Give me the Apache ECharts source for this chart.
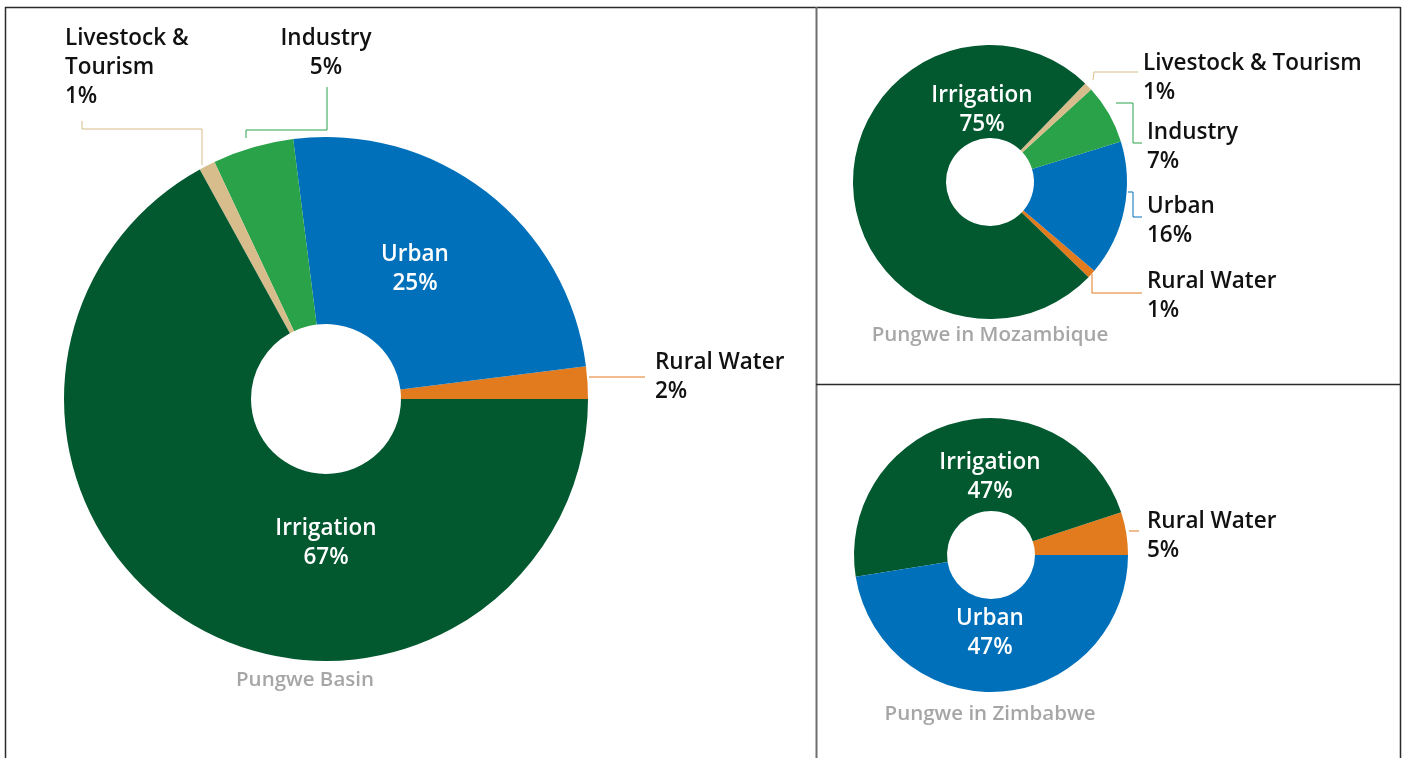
<!DOCTYPE html>
<html>
<head>
<meta charset="utf-8">
<script src="https://cdn.jsdelivr.net/npm/echarts@6/dist/echarts.min.js"></script>
<style>
  html, body { margin: 0; padding: 0; background: #fff; }
  #chart { width: 1405px; height: 758px; }
</style>
</head>
<body>
<div id="chart"></div>
<script>
// slices go counter-clockwise from 3 o'clock
const basinNames = ['Rural Water', 'Urban', 'Industry', 'Livestock & Tourism', 'Irrigation']
const basinValues = [2, 25, 5, 1, 67]

const mozNames = ['Rural Water', 'Urban', 'Industry', 'Livestock & Tourism', 'Irrigation']
const mozValues = [1, 16, 7, 1, 75]

const zimNames = ['Rural Water', 'Irrigation', 'Urban']
const zimValues = [5, 47, 47]

const panelTitles = ['Pungwe Basin', 'Pungwe in Mozambique', 'Pungwe in Zimbabwe']

const colors = {
  'Irrigation': '#02582f',
  'Urban': '#0070ba',
  'Rural Water': '#e27b1e',
  'Industry': '#29a249',
  'Livestock & Tourism': '#d8bd8c'
}

const FONT = '"Open Sans", "Noto Sans", sans-serif'
const LINE_H = 29
const Y_SHIFT = 2

// label placement per panel: inside labels are centred on (x, y),
// outside ones have y = centre of first line and get a leader line
const basinLayout = {
  'Urban': {x: 415, y: 267, inside: true},
  'Irrigation': {x: 326, y: 541, inside: true},
  'Rural Water': {x: 655, y: 361, line: [[589, 377], [645, 377]]},
  'Industry': {x: 326, y: 37, align: 'center', line: [[246, 138], [246, 130], [327, 130], [327, 87]]},
  'Livestock & Tourism': {x: 65, y: 37, text: 'Livestock &\nTourism', line: [[202, 165], [202, 129], [82, 129], [82, 121]]}
}
const mozLayout = {
  'Irrigation': {x: 982, y: 108, inside: true},
  'Livestock & Tourism': {x: 1143, y: 62, line: [[1093, 80], [1094, 72], [1138, 72]]},
  'Industry': {x: 1147, y: 131, line: [[1116, 103], [1133, 103], [1133, 143], [1142, 143]]},
  'Urban': {x: 1147, y: 205, line: [[1128, 192], [1133, 192], [1133, 217], [1142, 217]]},
  'Rural Water': {x: 1147, y: 280, line: [[1092, 274], [1092, 293], [1142, 293]]}
}
const zimLayout = {
  'Irrigation': {x: 990, y: 475, inside: true},
  'Urban': {x: 990, y: 631, inside: true},
  'Rural Water': {x: 1147, y: 520, line: [[1129, 531], [1139, 531]]}
}

function buildData(names, values, layout) {
  return names.map((n, i) => {
    const l = layout[n]
    const text = (l.text || n) + '\n' + values[i] + '%'
    return {
      name: n,
      value: values[i],
      itemStyle: {color: colors[n]},
      label: {
        position: l.inside ? 'inside' : 'outside',
        formatter: text,
        color: l.inside ? '#ffffff' : '#111111',
        align: l.inside ? 'center' : (l.align || 'left')
      },
      labelLine: {
        show: !l.inside,
        lineStyle: {color: colors[n], width: 1}
      }
    }
  })
}

function makeLayout(names, layout) {
  return params => {
    const l = layout[names[params.dataIndex]]
    let y = l.y
    if (!l.inside) {
      const lines = (l.text || 'x').split('\n').length + 1
      y = l.y - LINE_H / 2 + lines * LINE_H / 2
    }
    const opt = {
      x: l.x,
      y: y + Y_SHIFT,
      align: l.inside ? 'center' : (l.align || 'left'),
      verticalAlign: 'middle'
    }
    if (l.line) opt.labelLinePoints = l.line
    return opt
  }
}

function pieSeries(names, values, layout, center, radius, startAngle) {
  return {
    type: 'pie',
    center: center,
    radius: radius,
    startAngle: startAngle,
    clockwise: false,
    avoidLabelOverlap: false,
    silent: true,
    animation: false,
    label: {
      show: true,
      fontFamily: FONT,
      fontSize: 22.5,
      fontWeight: 600,
      lineHeight: LINE_H
    },
    labelLine: {show: true, length: 10, length2: 10},
    labelLayout: makeLayout(names, layout),
    data: buildData(names, values, layout)
  }
}

const myChart = echarts.init(document.getElementById('chart'))

const borderColor = '#2a2a2a'
const titleStyle = {textAlign: 'center', textVerticalAlign: 'middle', fill: '#a6a6a6', font: '600 20.5px ' + FONT}
const option = {
  backgroundColor: '#ffffff',
  graphic: [
    {type: 'line', shape: {x1: 5, y1: 7.5, x2: 1400.5, y2: 7.5}, style: {stroke: borderColor, lineWidth: 1.5}},
    {type: 'line', shape: {x1: 5.5, y1: 7, x2: 5.5, y2: 758}, style: {stroke: borderColor, lineWidth: 1.5}},
    {type: 'line', shape: {x1: 1400.5, y1: 7, x2: 1400.5, y2: 758}, style: {stroke: borderColor, lineWidth: 1.5}},
    {type: 'line', shape: {x1: 816.5, y1: 7, x2: 816.5, y2: 758}, style: {stroke: '#6e6e6e', lineWidth: 2}},
    {type: 'line', shape: {x1: 816, y1: 384.5, x2: 1400, y2: 384.5}, style: {stroke: borderColor, lineWidth: 1.5}},
    {type: 'text', x: 305, y: 680, style: Object.assign({text: panelTitles[0]}, titleStyle)},
    {type: 'text', x: 990, y: 335, style: Object.assign({text: panelTitles[1]}, titleStyle)},
    {type: 'text', x: 990, y: 714, style: Object.assign({text: panelTitles[2]}, titleStyle)}
  ],
  series: [
    pieSeries(basinNames, basinValues, basinLayout, [326, 399], [75, 262], 0),
    pieSeries(mozNames, mozValues, mozLayout, [990, 182], [44, 137], -44),
    pieSeries(zimNames, zimValues, zimLayout, [991, 555], [44, 137], 0)
  ]
}

myChart.setOption(option)
window.addEventListener('resize', () => {
  myChart.resize()
})
</script>
</body>
</html>
